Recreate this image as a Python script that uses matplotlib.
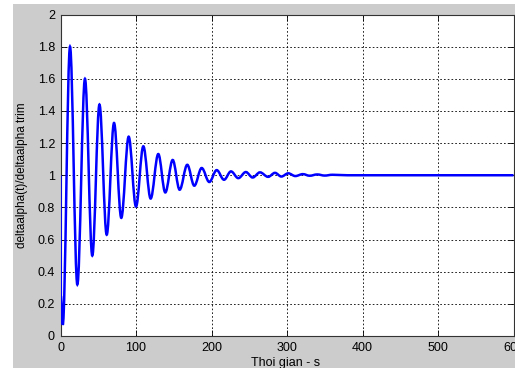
import matplotlib
matplotlib.use("Agg")
import matplotlib.pyplot as plt
from matplotlib.patches import Rectangle, PathPatch
from matplotlib.path import Path

# --- CONFIGURATION ---
OUTPUT_FILE = "out.png"
FIG_W_PX, FIG_H_PX = 515, 368
DPI = 100
BG_GREY = "#cccccc"
LINE_BLUE = "#0000ff"

plt.rcParams['font.family'] = ['Liberation Sans', 'DejaVu Sans']

# --- DATA (turning points of the response) ---
time_s = [0, 0.4, 3.0, 12.6, 22.3, 32.4, 42.1, 51.6, 61.2, 70.9, 80.5,
          90.3, 100.0, 109.7, 119.4, 129.5, 138.8, 148.6, 157.8, 167.9,
          177.2, 187.0, 197.1, 206.9, 216.6, 225.8, 235.5, 245.5, 254.5,
          264.2, 275.0, 284.1, 292.5, 301.7, 311.0, 321.0, 330.0, 340.0,
          350.0, 360.0, 380.0, 600.0]
ratio = [1.0, 0.25, 0.07, 1.80, 0.32, 1.60, 0.50, 1.44, 0.63, 1.325, 0.735,
         1.24, 0.805, 1.18, 0.855, 1.132, 0.893, 1.095, 0.91, 1.065,
         0.935, 1.045, 0.958, 1.032, 0.972, 1.024, 0.982, 1.02, 0.986,
         1.018, 0.99, 1.015, 0.992, 1.012, 0.995, 1.007, 0.997, 1.005,
         0.998, 1.003, 1.0, 1.0]

x_ticks = [0, 100, 200, 300, 400, 500, 600]
y_ticks = [0, 0.2, 0.4, 0.6, 0.8, 1, 1.2, 1.4, 1.6, 1.8, 2]
y_tick_labels = ["0", "0.2", "0.4", "0.6", "0.8", "1", "1.2", "1.4", "1.6", "1.8", "2"]


def smooth_path(xs, ys, k=0.36):
    """Bezier path through the turning points (flat tangent at each one)."""
    verts = [(xs[0], ys[0])]
    codes = [Path.MOVETO]
    for i in range(1, len(xs)):
        dx = xs[i] - xs[i - 1]
        verts += [(xs[i - 1] + k * dx, ys[i - 1]),
                  (xs[i] - k * dx, ys[i]),
                  (xs[i], ys[i])]
        codes += [Path.CURVE4] * 3
    return Path(verts, codes)


def plot_response():
    """MATLAB-style response plot on a grey figure."""
    fig = plt.figure(figsize=(FIG_W_PX / DPI, FIG_H_PX / DPI), dpi=DPI, facecolor="white")

    # grey figure area (white strip on the left / top in the reference)
    fig.patches.append(Rectangle((13 / FIG_W_PX, 0), 1, 1 - 4 / FIG_H_PX,
                                 transform=fig.transFigure, facecolor=BG_GREY,
                                 edgecolor="none", zorder=-10))

    ax = fig.add_axes([60.5 / FIG_W_PX, 1 - 336 / FIG_H_PX,
                       453 / FIG_W_PX, 321.5 / FIG_H_PX])
    ax.set_facecolor("white")

    ax.add_patch(PathPatch(smooth_path(time_s, ratio), facecolor="none",
                           edgecolor=LINE_BLUE, linewidth=1.8, zorder=3))

    ax.set_xlim(0, 600)
    ax.set_ylim(0, 2)
    ax.set_xticks(x_ticks)
    ax.set_yticks(y_ticks)
    ax.set_yticklabels(y_tick_labels)
    ax.tick_params(direction="in", length=4, width=0.6, labelsize=9,
                   pad=4, top=True, right=True, colors="black")

    ax.grid(True, color="black", linestyle=(0, (2, 2.5)), linewidth=0.6)
    for sp in ax.spines.values():
        sp.set_color("#333333")
        sp.set_linewidth(0.8)

    fig.text(22 / FIG_W_PX, 1 - 175 / FIG_H_PX, "deltaalpha(t)/deltaalpha trim",
             rotation=90, ha="center", va="center", fontsize=8.5)
    fig.text(286 / FIG_W_PX, 1 - 366 / FIG_H_PX, "Thoi gian - s",
             ha="center", va="baseline", fontsize=9)

    fig.savefig(OUTPUT_FILE, dpi=DPI, facecolor=fig.get_facecolor())
    plt.close(fig)


if __name__ == "__main__":
    plot_response()
